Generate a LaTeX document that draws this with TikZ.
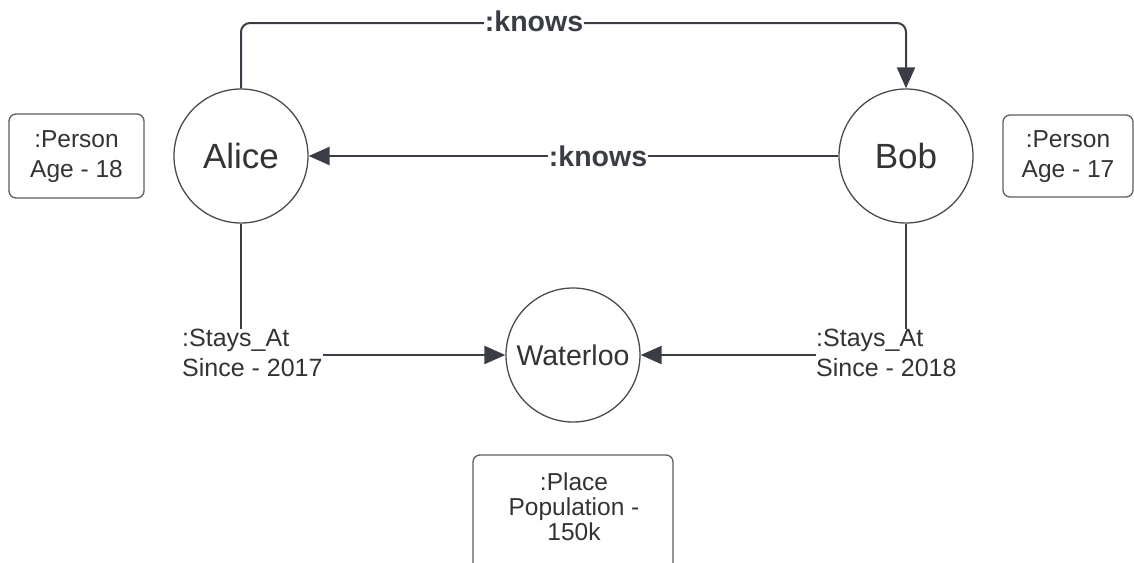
\documentclass[tikz,border=0pt]{standalone}
\usepackage{fontspec}
\setmainfont{Liberation Sans}
\usetikzlibrary{arrows.meta}
\definecolor{linec}{HTML}{3A3D45}
\definecolor{circc}{HTML}{4A4A4A}
\definecolor{boxc}{HTML}{5E5E5E}
\definecolor{txtc}{HTML}{333333}
\tikzset{
  ent/.style={circle, draw=circc, line width=1.3pt, minimum size=134pt, inner sep=0pt, text=txtc},
  propbox/.style={draw=boxc, line width=1.3pt, rounded corners=7pt, text=txtc, align=center, inner sep=0pt},
  rel/.style={draw=linec, line width=2.4pt},
  arr/.style={rel, -{Triangle[length=21pt,width=18pt]}},
  rellbl/.style={fill=white, text=linec, inner sep=1pt, font=\fontsize{28.5}{32}\selectfont\bfseries},
  stayl/.style={fill=white, text=txtc, align=left, inner sep=0pt, font=\fontsize{25}{30}\selectfont},
}
\begin{document}
\begin{tikzpicture}[x=1pt,y=-1pt]
\useasboundingbox (0,0) rectangle (1134,562);
\begin{scope}
\clip (0,0) rectangle (1134,562);
% boxes
\draw[propbox] (9,114) rectangle (144,198);
\draw[propbox] (1003,115) rectangle (1133,197);
\draw[propbox] (473,455) rectangle (673,600);
\end{scope}
\node[text=txtc, align=center, font=\fontsize{24.5}{30}\selectfont] (pa) at (76.5,157) {:Person\\Age - 18};
\node[text=txtc, align=center, font=\fontsize{24.5}{30}\selectfont] (pb) at (1068,157) {:Person\\Age - 17};
\node[text=txtc, align=center, font=\fontsize{24.5}{25}\selectfont] (pw) at (574,507) {:Place\\Population -\\150k};
% entities
\node[ent, font=\fontsize{35}{38}\selectfont] (alice) at (241,156) {Alice};
\node[ent, font=\fontsize{35}{38}\selectfont] (bob) at (906,156) {Bob};
\node[ent, font=\fontsize{28.5}{32}\selectfont] (wat) at (573,355) {Waterloo};
% top knows
\coordinate (tl) at (alice.north |- 0,23);
\coordinate (tr) at (bob.north |- 0,23);
\draw[arr, line width=2pt, rounded corners=9pt] (alice.north) -- (tl) -- (tr) -- (bob.north);
\node[rellbl] (k1) at (534,21) {:knows};
% middle knows
\draw[arr] (bob.west) -- (alice.east);
\node[rellbl] (k2) at (598,156) {:knows};
% stays at
\node[stayl, anchor=west] (sa) at (182,353) {:Stays\_At\\Since - 2017};
\node[stayl, anchor=west] (sb) at (816,353) {:Stays\_At\\Since - 2018};
\draw[rel] (alice.south) -- (alice.south |- sa.north);
\draw[rel] (bob.south) -- (bob.south |- sb.north);
\draw[arr] (sa.east |- wat.west) -- (wat.west);
\draw[arr] (sb.west |- wat.east) -- (wat.east);
\end{tikzpicture}
\end{document}
